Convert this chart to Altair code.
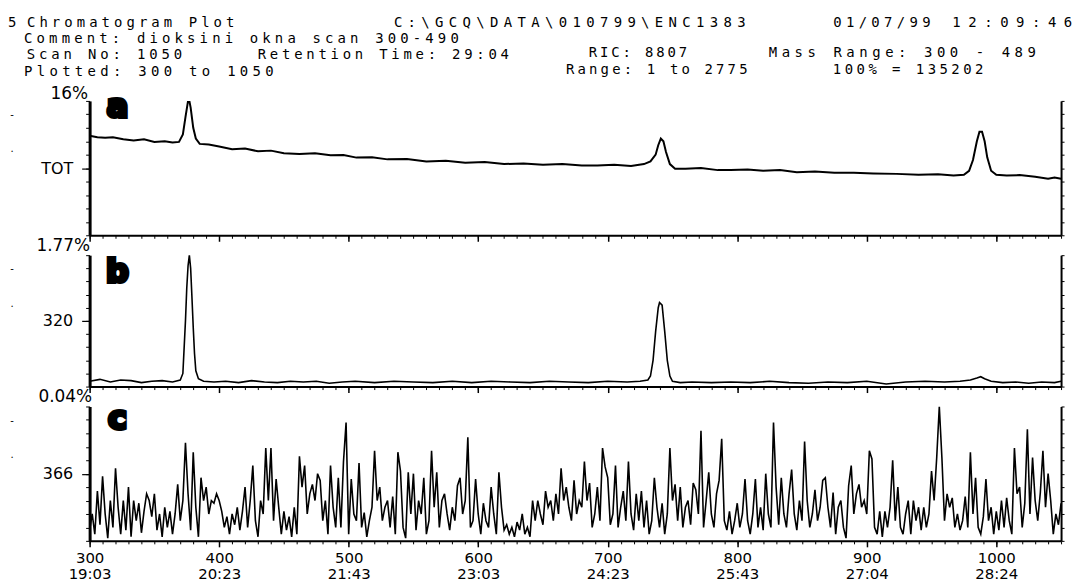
import altair as alt
import pandas as pd

# ---------------- data ----------------
# Trace a: total ion current (percent of panel full scale)
a_scan = [300, 306, 312, 318, 326, 334, 342, 350, 358, 364, 369, 372, 374, 376, 377, 378, 380, 382, 385, 392,
          400, 410, 420, 430, 440, 450, 462, 474, 486, 496, 506, 518, 530, 545, 560, 575, 590, 605, 620, 635,
          650, 665, 680, 692, 705, 718, 728, 733, 737, 739, 741, 743, 745, 748, 752, 760, 772, 785, 795, 808,
          820, 833, 846, 860, 875, 890, 905, 923, 940, 955, 967, 975, 979, 982, 985, 987, 989, 991, 993, 996,
          1000, 1008, 1018, 1030, 1040, 1045, 1050]
a_val = [74, 73, 72.5, 73, 71.5, 70.5, 71.5, 69.5, 70, 69, 69.5, 75, 88, 100, 100, 95, 80, 72, 68, 67.5,
         66, 64, 64.5, 62.5, 63, 61, 60.5, 61, 59.5, 59.8, 57.8, 58, 56.5, 56.8, 55, 55.5, 54, 54.5, 53, 53.5,
         52.5, 53, 52, 52, 52.5, 51.5, 53, 55, 60, 67, 72, 70, 62, 53, 49.5, 49.5, 50, 48.5, 48.6, 49,
         48, 48.5, 47, 47.5, 46.5, 46.5, 46, 45.7, 45, 45.5, 44.5, 45, 48, 56, 70, 77, 77, 70, 58, 48,
         45, 44.5, 44.8, 43.5, 42, 43, 42]

# Trace b: mass 320
b_scan = [300, 308, 316, 324, 332, 340, 348, 356, 364, 370, 372, 373, 374, 375, 376, 377, 378, 379, 380, 381,
          382, 384, 388, 396, 405, 415, 425, 435, 445, 455, 465, 475, 485, 495, 505, 520, 535, 550, 565, 580,
          595, 610, 625, 640, 655, 670, 685, 700, 715, 725, 731, 733, 735, 737, 739, 740, 742, 744, 746, 748,
          750, 756, 765, 780, 795, 810, 825, 840, 855, 870, 885, 900, 915, 930, 945, 960, 972, 980, 985, 988,
          991, 996, 1005, 1015, 1025, 1035, 1045, 1050]
b_val = [4, 5.5, 3.5, 5, 4.5, 3, 4, 4.5, 3.5, 5, 10, 30, 50, 75, 92, 100, 90, 68, 45, 25,
         12, 6, 4, 3.5, 4, 3, 4.5, 3.5, 3, 4, 3.5, 4, 2.5, 3.5, 4, 3, 4, 3.5, 3, 4,
         3, 4, 3.5, 3, 4, 3.5, 3, 4, 3.5, 4, 5, 8, 20, 42, 60, 64, 62, 42, 20, 8,
         4, 3, 3.5, 3, 3.5, 3, 4, 3, 2.5, 3.5, 3, 4, 2, 3.5, 4, 3.5, 4, 5, 6.5, 7.5,
         6, 4, 3, 3.5, 2.5, 3.5, 3, 4]

# Trace c: mass 366 (noise), every 2nd scan from 300
c_val = [8, 20, 5, 37, 12, 48, 20, 2, 30, 10, 54, 25, 5, 30, 8, 40,
         3, 30, 15, 28, 6, 22, 35, 30, 18, 35, 8, 20, 3, 25, 10, 22,
         5, 20, 42, 15, 30, 73, 35, 8, 66, 25, 3, 47, 30, 40, 20, 30,
         28, 35, 30, 22, 10, 18, 5, 20, 12, 25, 8, 22, 40, 10, 30, 56,
         15, 3, 30, 20, 69, 30, 69, 15, 46, 25, 5, 22, 8, 18, 3, 25,
         5, 63, 40, 56, 20, 35, 42, 30, 50, 45, 15, 30, 5, 56, 25, 10,
         47, 10, 59, 88, 5, 46, 20, 15, 58, 10, 21, 3, 15, 25, 67, 30,
         40, 15, 25, 30, 10, 33, 5, 66, 52, 10, 2, 51, 20, 50, 8, 30,
         20, 47, 5, 15, 67, 25, 51, 10, 30, 35, 20, 8, 25, 15, 41, 47,
         20, 30, 77, 10, 15, 46, 20, 5, 28, 15, 10, 40, 20, 5, 51, 25,
         8, 12, 5, 10, 3, 14, 8, 20, 5, 10, 3, 30, 15, 30, 20, 12,
         37, 25, 30, 15, 35, 20, 54, 30, 40, 25, 15, 45, 20, 30,
         25, 59, 30, 43, 10, 20, 40, 15, 69, 55, 47, 12, 20, 56, 10, 25,
         37, 15, 59, 20, 8, 35, 15, 37, 10, 30, 5, 15, 47, 25, 10, 28,
         5, 20, 69, 30, 42, 15, 40, 10, 25, 30, 12, 43, 38, 20, 82, 10,
         30, 51, 20, 10, 35, 45, 76, 15, 8, 22, 5, 15, 28, 10, 20, 46,
         15, 5, 20, 46, 10, 25, 8, 50, 20, 10, 88, 40, 12, 47, 20, 10,
         35, 53, 20, 8, 30, 15, 74, 30, 10, 20, 38, 15, 25, 45,
         47, 25, 10, 36, 5, 25, 30, 10, 2, 41, 56, 20, 35, 42, 25, 30,
         20, 67, 61, 10, 5, 22, 3, 22, 10, 25, 60, 15, 40, 10, 5, 20,
         30, 5, 30, 15, 25, 8, 25, 10, 20, 52, 30, 62, 100, 62, 15, 35,
         25, 32, 10, 20, 8, 15, 33, 10, 66, 20, 47, 10, 5, 18, 46, 15,
         25, 5, 22, 8, 30, 10, 32, 15, 5, 69, 35, 40, 10, 28, 83, 20,
         62, 30, 15, 36, 67, 25, 50, 30, 5, 20, 12, 28]
c_scan = list(range(300, 300 + 2 * len(c_val), 2))

# axis texts
scan_ticks = [300, 400, 500, 600, 700, 800, 900, 1000]
time_labels = ["19:03", "20:23", "21:43", "23:03", "24:23", "25:43", "27:04", "28:24"]
panel_mid_labels = ["TOT", "320", "366"]
panel_top_labels = ["16%", "1.77%", "0.04%"]
panel_letters = ["a", "b", "c"]

header_texts = ["5", "Chromatogram Plot", "C:\\GCQ\\DATA\\010799\\ENC1383", "01/07/99", "12:09:46",
                "Comment: dioksini okna scan 300-490",
                "Scan No: 1050", "Retention Time: 29:04", "RIC: 8807", "Mass Range: 300 - 489",
                "Plotted: 300 to 1050", "Range: 1 to 2775", "100% = 135202"]

# ---------------- layout ----------------
PLOT_X0 = 90      # page x of plot left edge
PAGE_TOP = 8
W = 976
HEIGHTS = [135, 132, 135]
FONT = "DejaVu Sans"
HFONT_FAMILY = "DejaVu Sans Mono"
HFONT = 14
# (left x, character pitch, baseline y) in page pixels for each header string
header_layout = [(8, 8.6, 26), (25, 12.5, 26), (393, 13.8, 26), (835, 12.75, 26), (953, 16.0, 26),
                 (22, 12.6, 42),
                 (25, 12.3, 58), (257, 12.2, 58), (590, 11.3, 56), (770, 13.0, 56),
                 (22, 12.75, 75), (567, 11.6, 73), (835, 11.9, 73)]

rows = []
for txt, (x0, pitch, yb) in zip(header_texts, header_layout):
    for i, ch in enumerate(txt):
        if ch != " ":
            rows.append({"ch": ch, "px": x0 + (i + 0.5) * pitch - PLOT_X0, "py": yb - PAGE_TOP})
header = alt.Chart(pd.DataFrame(rows)).mark_text(
    font=HFONT_FAMILY, fontSize=HFONT, align="center", baseline="alphabetic", color="black"
).encode(
    x=alt.X("px:Q", scale=None, axis=None),
    y=alt.Y("py:Q", scale=None, axis=None),
    text="ch:N",
).properties(width=W, height=72)

cond = "''"
for v, t in reversed(list(zip(scan_ticks, time_labels))):
    cond = f"(datum.value == {v} ? '{t}' : {cond})"
x_label_expr = f"[format(datum.value, 'd'), {cond}]"

xscale = alt.Scale(domain=[300, 1050], nice=False, zero=False)
yscale = alt.Scale(domain=[0, 100], nice=False, zero=False)
X_MINOR = list(range(300, 1051, 10))
Y_MINOR = list(range(0, 101, 10))


def panel(scans, vals, idx, stroke_w, letter_y, title_x, title_y, show_labels):
    df = pd.DataFrame({"scan": scans, "v": vals})
    base = alt.Chart(df)
    x_major = alt.Axis(values=scan_ticks, orient="bottom", tickSize=6, tickWidth=1.5, tickColor="black",
                       domainColor="black", domainWidth=2, grid=False, title=None, format="d",
                       labels=show_labels, labelExpr=x_label_expr, labelFont=FONT, labelFontSize=15,
                       labelColor="black", labelPadding=4, labelLineHeight=16, labelFlush=False)
    y_major = alt.Axis(values=[50], orient="left", tickSize=8, tickWidth=1.2, tickColor="black",
                       domainColor="black", domainWidth=3, grid=False,
                       labelExpr=f"'{panel_mid_labels[idx]}'", labelFont=FONT, labelFontSize=16,
                       labelColor="black", labelPadding=9, labelBaseline="middle",
                       title=panel_top_labels[idx], titleAngle=0, titleAlign="right",
                       titleBaseline="alphabetic", titleX=title_x, titleY=title_y, titleFont=FONT,
                       titleFontSize=17, titleFontWeight="normal", titleColor="black")
    line = base.mark_line(color="black", strokeWidth=stroke_w, clip=True).encode(
        x=alt.X("scan:Q", scale=xscale, axis=x_major),
        y=alt.Y("v:Q", scale=yscale, axis=y_major),
    )
    minor = base.mark_line(opacity=0).encode(
        x=alt.X("scan:Q", scale=xscale,
                axis=alt.Axis(values=X_MINOR, orient="bottom", tickSize=3, tickColor="black", domain=False,
                              labels=False, title=None, grid=False)),
        y=alt.Y("v:Q", scale=yscale,
                axis=alt.Axis(values=Y_MINOR, orient="left", tickSize=4, tickColor="black", domain=False,
                              labels=False, title=None, grid=False)),
    )
    right = base.mark_line(opacity=0).encode(
        x=alt.X("scan:Q", scale=xscale, axis=None),
        y=alt.Y("v:Q", scale=yscale,
                axis=alt.Axis(values=Y_MINOR, orient="right", tickSize=3, tickColor="black",
                              domainColor="black", domainWidth=2, labels=False, title=None, grid=False)),
    )
    letter = alt.Chart(pd.DataFrame({"t": [panel_letters[idx]]})).mark_text(
        font=FONT, fontSize=32, fontWeight="bold", color="black", stroke="black", strokeWidth=4,
        align="center", baseline="alphabetic"
    ).encode(text="t:N", x=alt.value(28), y=alt.value(letter_y))
    # small scanner specks left of the axis labels
    specks = alt.Chart(pd.DataFrame({"t": ["-", "."]})).mark_text(
        font=FONT, fontSize=10, color="black", align="center", baseline="middle"
    ).encode(text="t:N", x=alt.value(12 - PLOT_X0),
             y=alt.Y("t:N", scale=alt.Scale(domain=["-", "."], range=[-3, 66]), axis=None))
    return alt.layer(line, minor, right, letter, specks).resolve_axis(
        x="independent", y="independent"
    ).resolve_scale(y="independent").properties(width=W, height=HEIGHTS[idx])


pa = panel(a_scan, a_val, 0, 2.0, 16, -2, -2, False)
pb = panel(b_scan, b_val, 1, 1.6, 27, 0, -5, False)
pc = panel(c_scan, c_val, 2, 1.6, 23, 2, -5, True)

chart = alt.vconcat(header, pa, pb, pc, spacing=20, bounds="flush").properties(
    padding={"left": 0, "top": 0, "right": 0, "bottom": 0}, background="white"
).configure_view(stroke=None)

chart.save("out.html", embed_options={"renderer": "svg", "actions": False})
